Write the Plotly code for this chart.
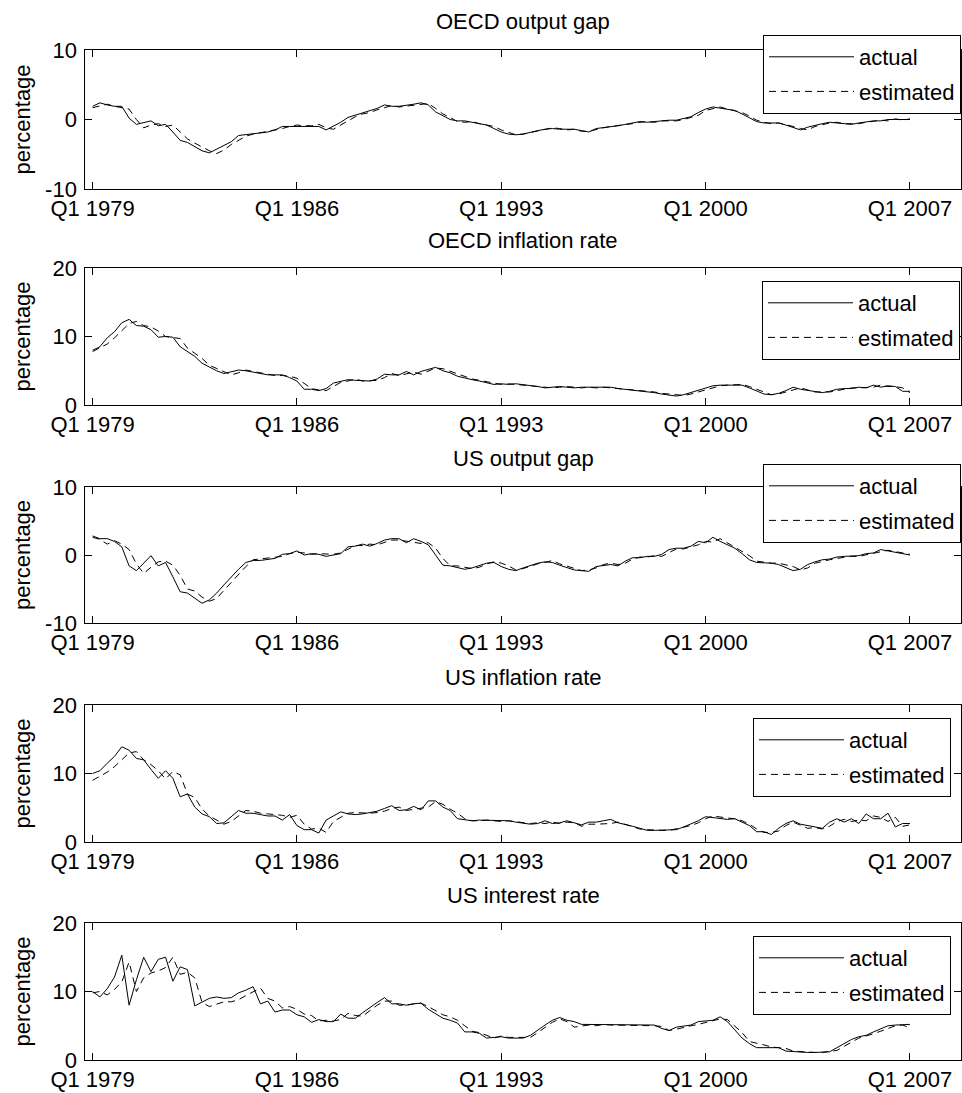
import plotly.graph_objects as go

W, H = 962, 1093

quarters = list(range(1, 114))
x_tick_vals = [1, 29, 57, 85, 113]
x_tick_text = ["Q1 1979", "Q1 1986", "Q1 1993", "Q1 2000", "Q1 2007"]

panel_titles = ["OECD output gap", "OECD inflation rate", "US output gap",
                "US inflation rate", "US interest rate"]
y_label = "percentage"
legend_names = ["actual", "estimated"]

gap_ticks = [-10, 0, 10]
gap_tick_text = ["-10", "0", "10"]
rate_ticks = [0, 10, 20]
rate_tick_text = ["0", "10", "20"]

oecd_gap_actual = [
    1.9, 2.4, 2.1, 1.9, 1.9, 0.2, -0.7, -0.5, -0.2, -0.9,
    -0.7, -1.8, -3.0, -3.3, -3.9, -4.5, -4.8, -4.3, -3.7, -3.2,
    -2.3, -2.2, -2.0, -2.0, -1.8, -1.5, -1.0, -1.0, -1.0, -1.0,
    -1.0, -1.0, -1.5, -1.0, -0.4, 0.3, 0.6, 0.9, 1.2, 1.6,
    2.1, 1.9, 1.9, 2.0, 2.2, 2.4, 2.1, 1.1, 0.5, 0.0,
    -0.2, -0.2, -0.4, -0.6, -0.8, -1.3, -1.8, -2.1, -2.2, -2.1,
    -1.8, -1.6, -1.4, -1.3, -1.4, -1.4, -1.4, -1.6, -1.8, -1.3,
    -1.2, -1.1, -0.9, -0.7, -0.5, -0.3, -0.4, -0.3, -0.1, -0.1,
    -0.1, 0.2, 0.4, 1.0, 1.5, 1.8, 1.6, 1.5, 1.3, 0.8,
    0.2, -0.3, -0.5, -0.5, -0.5, -0.8, -1.2, -1.5, -1.1, -0.8,
    -0.6, -0.4, -0.5, -0.6, -0.7, -0.5, -0.3, -0.2, -0.2, 0.0,
    0.0, 0.0, 0.0]
oecd_gap_estimated = [
    1.7, 2.0, 2.2, 1.9, 1.7, 1.5, 0.0, -1.2, -0.8, -0.6,
    -1.0, -0.8, -1.8, -2.8, -3.4, -4.0, -4.5, -4.9, -4.4, -3.6,
    -3.0, -2.4, -2.1, -1.9, -1.7, -1.6, -1.3, -1.0, -0.8, -0.9,
    -0.9, -0.7, -1.2, -1.4, -0.8, -0.2, 0.4, 0.8, 1.0, 1.4,
    1.7, 2.0, 1.8, 1.9, 2.1, 2.2, 2.3, 1.6, 0.8, 0.3,
    -0.3, -0.4, -0.3, -0.6, -0.8, -1.0, -1.5, -1.9, -2.2, -2.1,
    -1.9, -1.6, -1.4, -1.2, -1.3, -1.5, -1.4, -1.7, -1.7, -1.4,
    -1.2, -1.0, -0.9, -0.8, -0.6, -0.4, -0.3, -0.4, -0.2, -0.2,
    -0.2, 0.0, 0.3, 0.6, 1.3, 1.6, 1.8, 1.5, 1.2, 1.0,
    0.5, -0.1, -0.4, -0.6, -0.5, -0.7, -1.0, -1.3, -1.5, -1.0,
    -0.7, -0.5, -0.4, -0.6, -0.6, -0.6, -0.4, -0.2, -0.1, -0.2,
    0.1, -0.1, 0.1]

oecd_infl_actual = [
    8.0, 8.5, 9.8, 10.7, 12.0, 12.5, 11.6, 11.5, 11.0, 9.9,
    10.0, 9.9, 8.5, 7.8, 7.1, 6.1, 5.5, 5.0, 4.6, 4.9,
    5.1, 5.0, 4.8, 4.5, 4.4, 4.4, 4.4, 4.0, 3.5, 2.3,
    2.3, 2.1, 2.4, 3.2, 3.4, 3.7, 3.6, 3.5, 3.5, 3.8,
    4.5, 4.4, 4.4, 4.9, 4.4, 4.9, 5.2, 5.5, 5.0, 4.7,
    4.2, 3.9, 3.7, 3.5, 3.3, 3.0, 3.1, 3.0, 3.1, 3.0,
    2.8, 2.7, 2.5, 2.6, 2.7, 2.6, 2.5, 2.6, 2.6, 2.6,
    2.6, 2.6, 2.4, 2.3, 2.2, 2.1, 2.0, 1.8, 1.6, 1.5,
    1.3, 1.5, 1.8, 2.1, 2.4, 2.8, 2.9, 2.9, 3.0, 2.9,
    2.5, 2.0, 1.6, 1.5, 1.7, 2.1, 2.6, 2.3, 2.1, 2.0,
    1.8, 2.0, 2.3, 2.4, 2.4, 2.6, 2.5, 2.9, 2.6, 2.8,
    2.7, 2.0, 2.0]
oecd_infl_estimated = [
    7.8, 8.3, 8.9, 9.8, 10.8, 11.9, 12.2, 11.6, 11.4, 10.8,
    10.0, 9.8, 9.7, 8.3, 7.6, 6.8, 5.8, 5.3, 4.9, 4.4,
    4.7, 5.1, 4.9, 4.7, 4.5, 4.3, 4.3, 4.2, 3.9, 3.1,
    2.4, 2.2, 2.1, 2.7, 3.3, 3.5, 3.8, 3.5, 3.5, 3.6,
    4.0, 4.6, 4.3, 4.5, 4.8, 4.5, 5.0, 5.4, 5.3, 4.9,
    4.5, 4.1, 3.8, 3.6, 3.4, 3.2, 3.0, 3.1, 3.0, 3.0,
    2.9, 2.7, 2.6, 2.5, 2.6, 2.7, 2.6, 2.5, 2.6, 2.5,
    2.6, 2.5, 2.5, 2.3, 2.2, 2.1, 2.0, 1.9, 1.7, 1.6,
    1.5, 1.4, 1.6, 1.9, 2.2, 2.6, 2.8, 2.9, 2.9, 3.0,
    2.7, 2.3, 1.8, 1.5, 1.6, 1.9, 2.3, 2.5, 2.2, 1.9,
    1.9, 1.9, 2.1, 2.3, 2.5, 2.5, 2.6, 2.6, 2.9, 2.7,
    2.7, 2.5, 1.8]

us_gap_actual = [
    2.8, 2.4, 2.4, 2.0, 1.2, -1.6, -2.3, -1.2, -0.1, -1.6,
    -1.1, -3.2, -5.4, -5.6, -6.3, -7.1, -6.6, -5.6, -4.4, -3.2,
    -2.1, -1.1, -0.8, -0.8, -0.6, -0.5, 0.1, 0.2, 0.6, 0.0,
    0.2, 0.1, -0.2, 0.0, 0.2, 1.2, 1.3, 1.6, 1.3, 1.7,
    2.2, 2.4, 2.4, 1.8, 2.4, 2.0, 1.5, 0.0, -1.5, -1.6,
    -1.9, -2.1, -1.9, -1.5, -1.2, -1.1, -1.7, -2.1, -2.3, -1.9,
    -1.5, -1.2, -1.0, -1.1, -1.5, -1.8, -2.2, -2.3, -2.4, -1.7,
    -1.5, -1.4, -1.6, -0.9, -0.4, -0.4, -0.2, -0.2, 0.1, 0.8,
    1.0, 1.0, 1.3, 2.0, 1.8, 2.6, 2.0, 1.5, 1.0, 0.2,
    -0.7, -1.1, -1.1, -1.2, -1.4, -1.8, -2.3, -2.1, -1.4, -1.0,
    -0.7, -0.6, -0.3, -0.2, -0.2, -0.1, 0.2, 0.3, 0.8, 0.6,
    0.4, 0.2, 0.0]
us_gap_estimated = [
    2.6, 2.3, 1.6, 2.1, 1.6, 0.8, -1.3, -2.7, -1.8, -1.0,
    -0.9, -1.5, -3.0, -5.0, -5.3, -6.2, -6.8, -6.4, -5.2, -4.0,
    -2.9, -1.7, -0.7, -0.6, -0.5, -0.4, -0.2, 0.2, 0.4, 0.3,
    0.1, 0.2, 0.1, 0.1, 0.3, 0.8, 1.4, 1.4, 1.6, 1.5,
    1.9, 2.2, 2.2, 2.0, 1.8, 1.7, 1.8, 1.0, -0.5, -1.6,
    -1.6, -1.8, -2.0, -1.8, -1.3, -1.0, -1.2, -1.6, -2.2, -2.0,
    -1.6, -1.3, -1.1, -0.8, -1.3, -1.6, -2.0, -2.3, -2.2, -1.9,
    -1.4, -1.2, -1.4, -1.2, -0.6, -0.3, -0.3, -0.1, -0.2, 0.3,
    0.9, 0.9, 1.2, 1.5, 2.0, 1.9, 2.4, 1.8, 1.1, 0.6,
    -0.1, -0.9, -1.1, -1.2, -1.2, -1.5, -1.7, -2.2, -1.9, -1.2,
    -0.9, -0.7, -0.5, -0.3, -0.2, -0.2, 0.0, 0.2, 0.4, 0.7,
    0.5, 0.3, 0.1]

us_infl_actual = [
    10.0, 10.4, 11.5, 12.5, 13.9, 13.4, 12.2, 12.0, 10.6, 9.3,
    10.4, 9.3, 6.6, 7.0, 5.1, 4.1, 3.7, 2.7, 2.8, 3.7,
    4.6, 4.2, 4.2, 4.0, 3.8, 3.8, 3.2, 4.0, 2.4, 1.8,
    1.8, 1.3, 3.2, 3.8, 4.4, 4.1, 4.0, 4.1, 4.3, 4.5,
    4.9, 5.3, 4.6, 4.7, 5.2, 4.7, 6.0, 6.0, 5.1, 4.6,
    3.4, 3.2, 3.1, 3.2, 3.2, 3.1, 3.2, 3.1, 2.9, 2.8,
    2.6, 2.7, 3.1, 2.7, 2.8, 3.1, 2.8, 2.5, 2.9, 2.9,
    3.1, 3.3, 2.8, 2.6, 2.3, 2.0, 1.7, 1.7, 1.7, 1.8,
    1.8, 2.2, 2.6, 3.1, 3.7, 3.6, 3.4, 3.3, 3.4, 2.9,
    2.4, 1.5, 1.5, 1.1, 2.0, 2.7, 3.1, 2.6, 2.4, 2.2,
    2.0, 2.9, 3.4, 2.9, 3.4, 2.7, 4.1, 3.4, 3.4, 4.2,
    2.2, 2.7, 2.7]
us_infl_estimated = [
    9.0, 9.6, 10.2, 11.0, 12.0, 13.0, 13.2, 12.0, 11.3, 10.4,
    9.2, 10.3, 9.8, 7.0, 6.5, 4.8, 3.8, 3.2, 2.6, 3.0,
    3.8, 4.6, 4.5, 4.2, 4.1, 4.0, 3.9, 3.6, 3.9, 2.6,
    1.9, 2.0, 1.4, 3.0, 3.6, 4.2, 4.3, 4.2, 4.2, 4.3,
    4.5, 4.9, 5.1, 4.6, 4.8, 5.0, 5.1, 5.9, 5.5, 4.8,
    4.2, 3.4, 3.1, 3.1, 3.2, 3.1, 3.0, 3.1, 3.0, 2.9,
    2.7, 2.8, 2.7, 2.9, 2.7, 2.9, 2.8, 2.3, 2.6, 2.6,
    2.6, 2.7, 2.9, 2.6, 2.2, 1.9, 1.8, 1.7, 1.7, 1.7,
    1.9, 2.1, 2.4, 2.8, 3.4, 3.8, 3.6, 3.5, 3.4, 3.1,
    2.6, 1.9, 1.4, 1.4, 1.6, 2.4, 2.9, 2.5, 2.0, 2.1,
    1.9, 2.3, 3.0, 3.3, 3.0, 3.2, 3.1, 3.8, 3.6, 3.0,
    3.6, 2.3, 2.5]

us_rate_actual = [
    10.0, 9.2, 10.4, 12.1, 15.3, 8.0, 11.7, 15.0, 12.9, 14.7,
    15.0, 11.5, 13.6, 13.2, 7.9, 8.5, 9.0, 9.2, 9.0, 9.1,
    9.8, 10.2, 10.7, 8.2, 8.6, 7.0, 7.3, 7.3, 6.6, 6.3,
    5.5, 5.9, 5.6, 5.6, 6.7, 6.1, 6.1, 6.9, 7.7, 8.4,
    9.1, 8.2, 8.2, 8.0, 8.2, 8.3, 7.4, 6.8, 6.1, 5.8,
    5.4, 4.1, 4.1, 3.9, 3.2, 3.3, 3.4, 3.2, 3.2, 3.2,
    3.6, 4.4, 5.1, 5.8, 6.2, 5.8, 5.6, 5.2, 5.2, 5.2,
    5.2, 5.1, 5.2, 5.2, 5.2, 5.2, 5.2, 5.1, 4.6, 4.3,
    4.8, 4.9, 5.1, 5.6, 5.7, 5.8, 6.3, 5.6, 4.4, 3.2,
    2.4, 1.8, 1.8, 1.8, 1.8, 1.3, 1.2, 1.1, 1.1, 1.1,
    1.1, 1.2, 1.8, 2.4, 3.0, 3.4, 3.6, 4.1, 4.5, 5.0,
    5.1, 5.1, 5.2]
us_rate_estimated = [
    9.8, 10.0, 9.5, 10.3, 11.4, 14.3, 10.0, 12.0, 12.7, 13.0,
    13.5, 15.0, 12.5, 12.8, 12.0, 8.4, 7.8, 8.2, 8.5, 8.5,
    8.8, 9.4, 10.0, 10.5, 9.0, 8.6, 7.6, 7.8, 7.4, 6.7,
    6.5, 5.7, 5.8, 5.7, 5.9, 6.8, 6.5, 6.4, 7.2, 8.0,
    8.6, 8.6, 8.0, 8.0, 8.2, 8.3, 7.8, 7.2, 6.6, 6.3,
    5.8, 5.0, 4.2, 4.0, 3.6, 3.2, 3.5, 3.3, 3.3, 3.3,
    3.3, 4.0, 4.8, 5.5, 6.0, 5.6, 4.8, 4.9, 5.1, 5.0,
    5.2, 5.1, 5.1, 5.0, 5.0, 5.1, 5.0, 5.0, 4.9, 4.3,
    4.5, 4.8, 5.0, 5.2, 5.5, 5.8, 6.0, 5.9, 4.9, 4.0,
    2.7, 2.5, 2.2, 1.9, 1.8, 1.7, 1.3, 1.2, 1.1, 1.1,
    1.1, 1.2, 1.4, 2.0, 2.6, 3.2, 3.5, 3.8, 4.2, 4.6,
    5.0, 5.1, 4.7]

panels = [
    (oecd_gap_actual, oecd_gap_estimated, [-10, 10], gap_ticks, gap_tick_text),
    (oecd_infl_actual, oecd_infl_estimated, [0, 20], rate_ticks, rate_tick_text),
    (us_gap_actual, us_gap_estimated, [-10, 10], gap_ticks, gap_tick_text),
    (us_infl_actual, us_infl_estimated, [0, 20], rate_ticks, rate_tick_text),
    (us_rate_actual, us_rate_estimated, [0, 20], rate_ticks, rate_tick_text),
]

# layout geometry (pixels)
ax_left, ax_right = 85.3, 961.0
ax_tops = [50, 268, 487, 705, 923]
ax_bottoms = [189, 405, 623, 842, 1060]
leg_right = [961, 960, 961, 951, 951]
leg_top = [35, 281, 464, 718, 936]

FONT = "Liberation Sans, Arial, Helvetica, sans-serif"
FS = 22


def py(p):
    return 1 - p / H


fig = go.Figure()
layout = dict(
    width=W, height=H,
    margin=dict(l=0, r=0, t=0, b=0, pad=0, autoexpand=False),
    paper_bgcolor="white", plot_bgcolor="white",
    font=dict(family=FONT, size=FS, color="black"),
    showlegend=True,
)
annotations = []

for k, (act, est, yr, yt, ytt) in enumerate(panels):
    n = k + 1
    xs = "" if n == 1 else str(n)
    leg_id = "legend" if n == 1 else f"legend{n}"
    fig.add_trace(go.Scatter(
        x=quarters, y=act, mode="lines", name=legend_names[0],
        line=dict(color="black", width=1),
        xaxis="x" + xs, yaxis="y" + xs, legend=leg_id,
        legendgroup=f"a{n}"))
    fig.add_trace(go.Scatter(
        x=quarters, y=est, mode="lines", name=legend_names[1],
        line=dict(color="black", width=1, dash="7px,5px"),
        xaxis="x" + xs, yaxis="y" + xs, legend=leg_id,
        legendgroup=f"e{n}"))

    layout["xaxis" + xs] = dict(
        domain=[ax_left / W, ax_right / W], anchor="y" + xs,
        range=[0, 120], tickmode="array", tickvals=x_tick_vals,
        ticktext=x_tick_text, ticks="inside", ticklen=7, tickcolor="black",
        showline=True, linecolor="black", linewidth=1, mirror="ticks",
        showgrid=False, zeroline=False, automargin=False,
        tickfont=dict(family=FONT, size=FS, color="black"))
    layout["yaxis" + xs] = dict(
        domain=[py(ax_bottoms[k]), py(ax_tops[k])], anchor="x" + xs,
        range=yr, tickmode="array", tickvals=yt, ticktext=ytt,
        ticks="inside", ticklen=7, tickcolor="black",
        showline=True, linecolor="black", linewidth=1, mirror="ticks",
        showgrid=False, zeroline=False, automargin=False,
        ticklabelstandoff=3,
        tickfont=dict(family=FONT, size=FS, color="black"))
    layout[leg_id] = dict(
        x=leg_right[k] / W, y=py(leg_top[k]), xanchor="right", yanchor="top",
        xref="paper", yref="paper",
        bgcolor="white", bordercolor="black", borderwidth=1,
        font=dict(family=FONT, size=FS, color="black"),
        itemwidth=85, traceorder="grouped", tracegroupgap=3)

    annotations.append(dict(
        text=panel_titles[k], xref="paper", yref="paper",
        x=(ax_left + ax_right) / 2 / W, y=py(ax_tops[k] - 28),
        xanchor="center", yanchor="middle", showarrow=False,
        font=dict(family=FONT, size=FS, color="black")))
    annotations.append(dict(
        text=y_label, xref="paper", yref="paper", textangle=-90,
        x=22 / W, y=py((ax_tops[k] + ax_bottoms[k]) / 2),
        xanchor="center", yanchor="middle", showarrow=False,
        font=dict(family=FONT, size=FS, color="black")))

layout["annotations"] = annotations
fig.update_layout(**layout)
fig.write_html(
    "out.html",
    config={"displayModeBar": False, "staticPlot": True},
    post_script="document.body.style.margin='0px';"
                "document.body.style.padding='0px';"
                "document.body.style.overflow='hidden';")
